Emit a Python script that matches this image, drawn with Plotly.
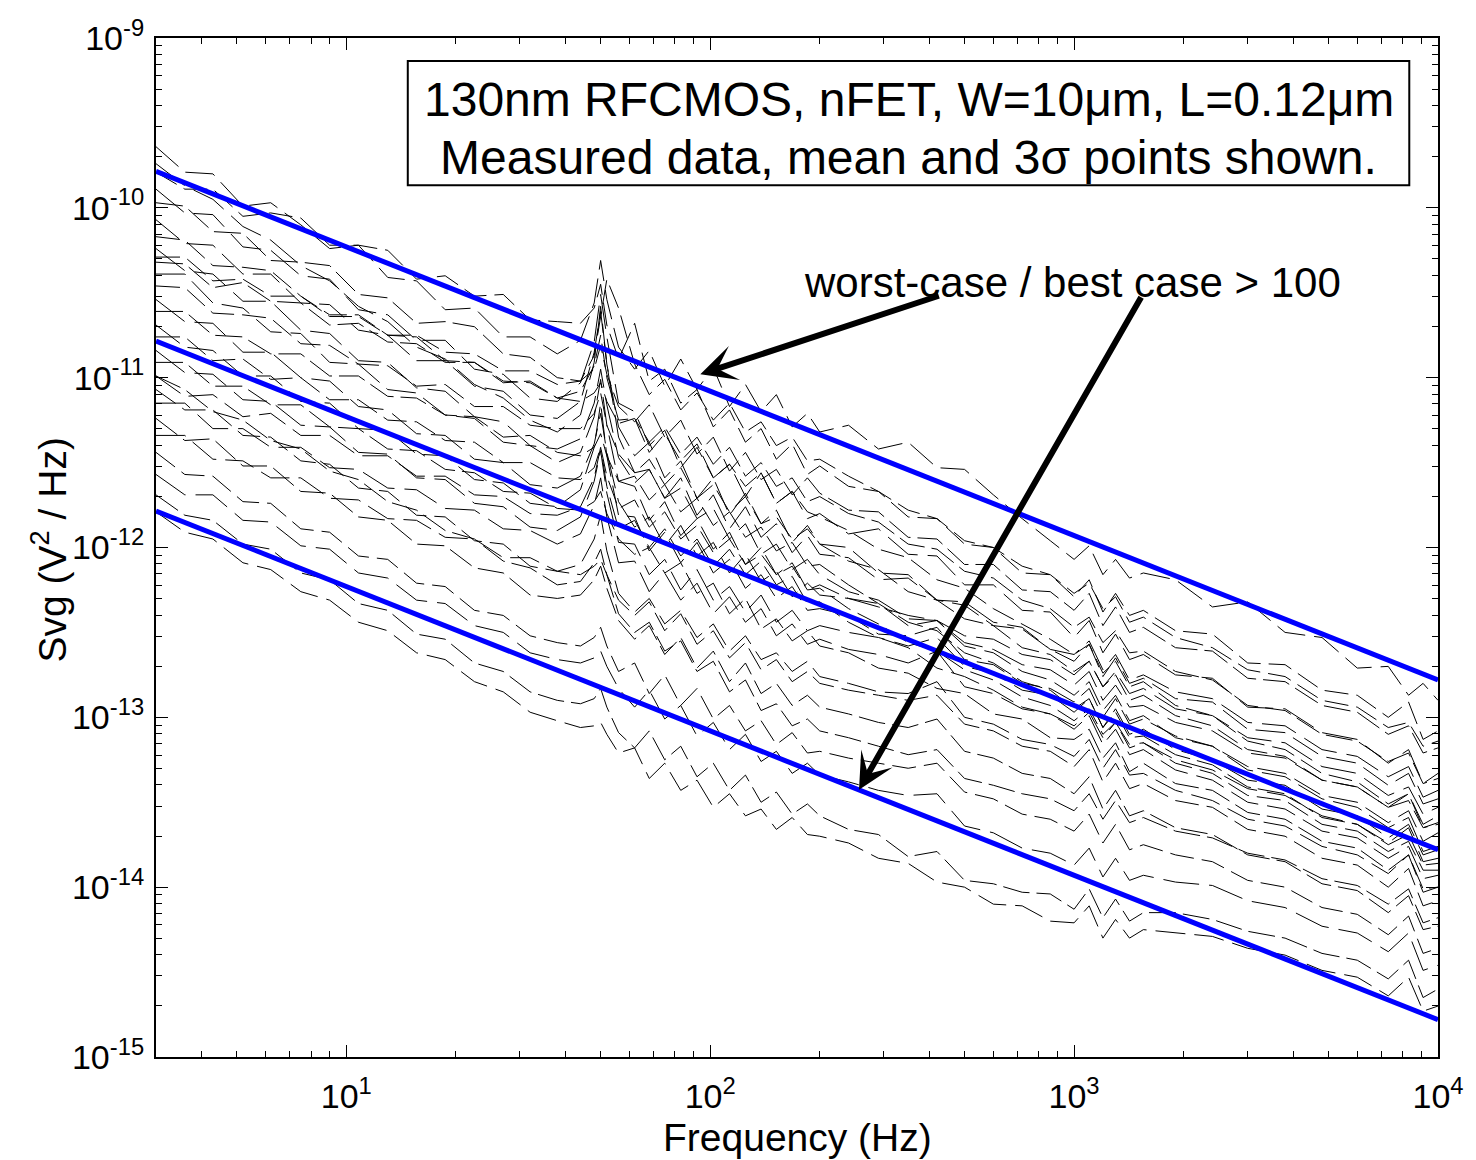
import plotly.graph_objects as go

FREQ_HZ = [3, 3.6, 4.3, 5.2, 6.2, 7.5, 9, 10.8, 13, 15.6, 18.7, 22.5, 27, 32, 38, 44, 48, 50, 52, 56,
           62, 68, 75, 83, 92, 102, 113, 125, 138, 152, 168, 185, 200, 240, 290, 350, 420, 500, 600, 720,
           860, 1000, 1100, 1200, 1300, 1420, 1550, 1900, 2400, 3000, 3800, 4800, 6000, 7300, 8300, 9100, 10000]

# measured Svg curves, log10(V^2/Hz), one list per device
LOG_SVG_01 = [-9.64, -9.79, -9.80, -9.99, -9.97, -10.10, -10.24, -10.22, -10.41, -10.43, -10.60, -10.59, -10.76, -10.76, -10.86, -10.78, -10.56, -10.31, -10.54, -10.82,
              -10.95, -10.84, -11.05, -10.89, -11.07, -10.94, -11.17, -11.04, -11.20, -11.10, -11.29, -11.21, -11.32, -11.28, -11.42, -11.38, -11.53, -11.54, -11.69, -11.83,
              -11.96, -12.07, -11.99, -12.16, -12.07, -12.18, -12.15, -12.19, -12.35, -12.32, -12.50, -12.53, -12.71, -12.70, -12.87, -12.80, -12.90]
LOG_SVG_02 = [-9.79, -9.89, -9.89, -10.05, -10.03, -10.06, -10.22, -10.22, -10.25, -10.42, -10.40, -10.52, -10.51, -10.66, -10.67, -10.68, -10.59, -10.45, -10.69, -10.89,
              -10.68, -11.02, -10.95, -11.15, -11.07, -11.29, -11.19, -11.38, -11.30, -11.48, -11.39, -11.57, -11.52, -11.64, -11.67, -11.82, -11.83, -11.98, -12.00, -12.15,
              -12.16, -12.29, -12.19, -12.38, -12.27, -12.40, -12.37, -12.49, -12.51, -12.68, -12.69, -12.84, -12.87, -13.00, -12.91, -13.13, -13.08]
LOG_SVG_03 = [-9.89, -10.03, -10.04, -10.23, -10.25, -10.40, -10.42, -10.60, -10.63, -10.78, -10.78, -10.95, -10.98, -11.12, -11.14, -11.03, -10.79, -10.51, -10.76, -11.15,
              -11.20, -11.40, -11.31, -11.53, -11.41, -11.59, -11.51, -11.70, -11.56, -11.74, -11.67, -11.83, -11.80, -11.92, -11.89, -12.04, -12.05, -12.22, -12.22, -12.37,
              -12.38, -12.53, -12.43, -12.62, -12.51, -12.66, -12.63, -12.75, -12.77, -12.94, -12.95, -13.09, -13.13, -13.27, -13.19, -13.39, -13.33]
LOG_SVG_04 = [-9.97, -9.99, -10.14, -10.15, -10.31, -10.32, -10.34, -10.51, -10.53, -10.68, -10.67, -10.70, -10.86, -10.88, -11.00, -11.02, -10.95, -10.81, -10.98, -11.17,
              -11.26, -11.16, -11.35, -11.25, -11.45, -11.35, -11.55, -11.44, -11.60, -11.54, -11.69, -11.59, -11.68, -11.78, -11.79, -11.94, -11.95, -12.10, -12.10, -12.25,
              -12.26, -12.37, -12.27, -12.46, -12.35, -12.50, -12.47, -12.59, -12.61, -12.77, -12.79, -12.93, -12.97, -13.10, -13.05, -13.21, -13.18]
LOG_SVG_05 = [-10.07, -10.21, -10.22, -10.39, -10.39, -10.56, -10.57, -10.72, -10.75, -10.90, -10.90, -11.05, -11.08, -11.22, -11.24, -11.14, -10.85, -10.61, -10.92, -11.29,
              -11.46, -11.38, -11.59, -11.49, -11.71, -11.59, -11.81, -11.68, -11.86, -11.78, -11.97, -11.87, -11.98, -12.00, -12.15, -12.16, -12.31, -12.34, -12.46, -12.48,
              -12.60, -12.67, -12.57, -12.76, -12.65, -12.80, -12.77, -12.89, -12.91, -13.07, -13.09, -13.23, -13.27, -13.40, -13.33, -13.51, -13.48]
LOG_SVG_06 = [-10.17, -10.19, -10.34, -10.35, -10.37, -10.52, -10.63, -10.63, -10.75, -10.76, -10.90, -10.91, -11.02, -11.03, -11.12, -11.08, -10.93, -10.75, -11.00, -11.25,
              -11.24, -11.44, -11.33, -11.49, -11.39, -11.59, -11.51, -11.64, -11.56, -11.74, -11.67, -11.79, -11.82, -11.90, -12.01, -12.06, -12.19, -12.24, -12.36, -12.45,
              -12.54, -12.63, -12.57, -12.74, -12.67, -12.82, -12.79, -12.93, -12.99, -13.14, -13.19, -13.33, -13.38, -13.51, -13.45, -13.65, -13.62]
LOG_SVG_07 = [-10.24, -10.37, -10.39, -10.55, -10.55, -10.72, -10.74, -10.90, -10.91, -11.06, -11.08, -11.23, -11.26, -11.40, -11.42, -11.36, -11.15, -10.95, -11.16, -11.47,
              -11.62, -11.54, -11.71, -11.59, -11.81, -11.69, -11.89, -11.76, -11.94, -11.86, -12.03, -11.93, -12.04, -12.06, -12.19, -12.18, -12.31, -12.32, -12.44, -12.47,
              -12.60, -12.63, -12.55, -12.72, -12.63, -12.78, -12.75, -12.85, -12.89, -13.03, -13.05, -13.19, -13.23, -13.35, -13.29, -13.47, -13.43]
LOG_SVG_08 = [-10.32, -10.33, -10.47, -10.44, -10.55, -10.56, -10.69, -10.68, -10.79, -10.80, -10.91, -10.91, -11.03, -11.02, -11.12, -11.14, -11.09, -11.03, -11.14, -11.27,
              -11.24, -11.38, -11.29, -11.45, -11.35, -11.51, -11.41, -11.58, -11.50, -11.64, -11.59, -11.73, -11.70, -11.80, -11.85, -11.98, -12.01, -12.14, -12.18, -12.31,
              -12.36, -12.47, -12.41, -12.56, -12.49, -12.62, -12.61, -12.73, -12.78, -12.93, -12.96, -13.10, -13.14, -13.26, -13.21, -13.39, -13.36]
LOG_SVG_09 = [-10.39, -10.39, -10.56, -10.59, -10.73, -10.74, -10.91, -10.92, -11.07, -11.09, -11.22, -11.24, -11.38, -11.40, -11.50, -11.44, -11.23, -11.01, -11.28, -11.61,
              -11.64, -11.84, -11.73, -11.93, -11.83, -12.01, -11.91, -12.10, -12.00, -12.16, -12.09, -12.25, -12.22, -12.30, -12.33, -12.46, -12.43, -12.58, -12.62, -12.73,
              -12.78, -12.87, -12.79, -12.96, -12.87, -13.02, -12.99, -13.12, -13.17, -13.31, -13.35, -13.48, -13.53, -13.65, -13.59, -13.79, -13.76]
LOG_SVG_10 = [-10.46, -10.47, -10.62, -10.63, -10.65, -10.80, -10.81, -10.92, -10.93, -11.05, -11.04, -11.17, -11.17, -11.28, -11.30, -11.30, -11.21, -11.09, -11.28, -11.45,
              -11.56, -11.48, -11.63, -11.53, -11.71, -11.63, -11.79, -11.70, -11.86, -11.82, -11.95, -11.89, -11.98, -12.08, -12.13, -12.26, -12.31, -12.42, -12.46, -12.59,
              -12.63, -12.73, -12.67, -12.82, -12.75, -12.90, -12.87, -12.99, -13.05, -13.19, -13.23, -13.37, -13.41, -13.53, -13.49, -13.65, -13.63]
LOG_SVG_11 = [-10.54, -10.67, -10.68, -10.85, -10.85, -11.00, -11.02, -11.17, -11.19, -11.33, -11.34, -11.48, -11.50, -11.63, -11.65, -11.58, -11.39, -11.21, -11.44, -11.73,
              -11.88, -11.82, -11.99, -11.87, -12.05, -11.97, -12.15, -12.04, -12.20, -12.14, -12.29, -12.21, -12.28, -12.30, -12.35, -12.40, -12.43, -12.52, -12.54, -12.63,
              -12.66, -12.75, -12.67, -12.82, -12.73, -12.86, -12.83, -12.95, -12.99, -13.12, -13.15, -13.29, -13.33, -13.46, -13.41, -13.57, -13.53]
LOG_SVG_12 = [-10.61, -10.61, -10.75, -10.76, -10.86, -10.86, -10.99, -10.99, -11.11, -11.12, -11.22, -11.23, -11.35, -11.34, -11.44, -11.46, -11.41, -11.33, -11.46, -11.61,
              -11.58, -11.72, -11.63, -11.79, -11.71, -11.87, -11.79, -11.94, -11.88, -12.02, -11.97, -12.11, -12.10, -12.22, -12.33, -12.44, -12.49, -12.62, -12.68, -12.79,
              -12.84, -12.95, -12.89, -13.06, -12.97, -13.12, -13.11, -13.22, -13.28, -13.41, -13.45, -13.59, -13.63, -13.75, -13.69, -13.87, -13.86]
LOG_SVG_13 = [-10.69, -10.82, -10.84, -10.99, -10.99, -11.14, -11.15, -11.30, -11.31, -11.45, -11.46, -11.60, -11.62, -11.74, -11.76, -11.66, -11.41, -11.15, -11.46, -11.81,
              -11.82, -12.02, -11.91, -12.09, -11.97, -12.15, -12.07, -12.24, -12.16, -12.30, -12.23, -12.37, -12.36, -12.40, -12.51, -12.52, -12.47, -12.66, -12.69, -12.80,
              -12.83, -12.91, -12.83, -13.00, -12.89, -13.04, -13.01, -13.11, -13.17, -13.29, -13.33, -13.46, -13.50, -13.62, -13.55, -13.73, -13.68]
LOG_SVG_14 = [-10.76, -10.76, -10.90, -10.89, -11.01, -11.00, -11.13, -11.13, -11.25, -11.26, -11.37, -11.38, -11.50, -11.50, -11.59, -11.60, -11.53, -11.41, -11.58, -11.77,
              -11.72, -11.88, -11.79, -11.95, -11.87, -12.03, -11.95, -12.10, -12.04, -12.16, -12.11, -12.25, -12.24, -12.36, -12.45, -12.56, -12.61, -12.72, -12.78, -12.88,
              -12.93, -13.02, -12.95, -13.10, -13.03, -13.18, -13.15, -13.27, -13.33, -13.46, -13.49, -13.63, -13.67, -13.79, -13.73, -13.90, -13.90]
LOG_SVG_15 = [-10.84, -10.97, -10.98, -11.13, -11.14, -11.28, -11.29, -11.44, -11.45, -11.59, -11.60, -11.74, -11.76, -11.88, -11.90, -11.82, -11.61, -11.43, -11.68, -11.97,
              -11.98, -12.16, -12.07, -12.25, -12.13, -12.31, -12.23, -12.38, -12.28, -12.44, -12.37, -12.49, -12.46, -12.50, -12.53, -12.58, -12.53, -12.70, -12.74, -12.84,
              -12.87, -12.97, -12.89, -13.06, -12.95, -13.10, -13.07, -13.19, -13.25, -13.37, -13.40, -13.54, -13.58, -13.71, -13.63, -13.81, -13.78]
LOG_SVG_16 = [-10.91, -10.91, -11.05, -11.05, -11.16, -11.16, -11.29, -11.30, -11.42, -11.43, -11.54, -11.56, -11.67, -11.68, -11.77, -11.78, -11.73, -11.67, -11.80, -11.95,
              -12.04, -12.00, -12.15, -12.09, -12.27, -12.21, -12.39, -12.30, -12.48, -12.42, -12.55, -12.49, -12.58, -12.62, -12.71, -12.74, -12.83, -12.86, -12.98, -13.01,
              -13.12, -13.13, -13.07, -13.24, -13.15, -13.32, -13.27, -13.39, -13.43, -13.56, -13.60, -13.73, -13.77, -13.90, -13.81, -14.01, -14.00]
LOG_SVG_17 = [-10.99, -11.11, -11.10, -11.23, -11.21, -11.34, -11.34, -11.46, -11.46, -11.58, -11.58, -11.69, -11.70, -11.80, -11.81, -11.76, -11.59, -11.41, -11.64, -11.89,
              -11.84, -12.00, -11.89, -12.05, -11.95, -12.11, -12.01, -12.16, -12.08, -12.22, -12.17, -12.33, -12.32, -12.44, -12.53, -12.59, -12.71, -12.76, -12.84, -12.94,
              -12.98, -13.07, -12.99, -13.16, -13.07, -13.22, -13.19, -13.31, -13.37, -13.50, -13.54, -13.67, -13.71, -13.83, -13.76, -13.95, -13.93]
LOG_SVG_18 = [-11.07, -11.19, -11.19, -11.34, -11.35, -11.49, -11.51, -11.65, -11.67, -11.81, -11.82, -11.96, -11.98, -12.11, -12.14, -12.16, -12.11, -12.07, -12.16, -12.31,
              -12.40, -12.32, -12.49, -12.39, -12.57, -12.49, -12.65, -12.56, -12.72, -12.66, -12.79, -12.73, -12.80, -12.84, -12.87, -12.90, -12.87, -13.04, -13.08, -13.17,
              -13.20, -13.29, -13.19, -13.38, -13.27, -13.42, -13.39, -13.49, -13.53, -13.66, -13.70, -13.83, -13.87, -14.00, -13.89, -14.11, -14.08]
LOG_SVG_19 = [-11.15, -11.15, -11.30, -11.30, -11.41, -11.41, -11.53, -11.54, -11.65, -11.66, -11.77, -11.78, -11.89, -11.90, -11.98, -11.92, -11.75, -11.59, -11.82, -12.09,
              -12.08, -12.26, -12.15, -12.31, -12.21, -12.39, -12.29, -12.44, -12.36, -12.52, -12.45, -12.57, -12.54, -12.60, -12.63, -12.68, -12.61, -12.82, -12.86, -12.95,
              -12.98, -13.05, -12.97, -13.12, -13.03, -13.16, -13.15, -13.25, -13.31, -13.42, -13.46, -13.58, -13.63, -13.74, -13.65, -13.85, -13.83]
LOG_SVG_20 = [-11.24, -11.37, -11.36, -11.52, -11.52, -11.67, -11.68, -11.82, -11.84, -11.98, -11.99, -12.12, -12.15, -12.28, -12.30, -12.28, -12.19, -12.11, -12.24, -12.43,
              -12.54, -12.46, -12.63, -12.53, -12.71, -12.61, -12.79, -12.68, -12.86, -12.80, -12.93, -12.87, -12.94, -12.98, -13.03, -13.06, -13.01, -13.20, -13.24, -13.33,
              -13.36, -13.45, -13.35, -13.54, -13.43, -13.58, -13.55, -13.65, -13.69, -13.81, -13.85, -13.98, -14.02, -14.15, -14.05, -14.25, -14.23]
LOG_SVG_21 = [-11.34, -11.34, -11.48, -11.49, -11.59, -11.59, -11.71, -11.72, -11.83, -11.84, -11.94, -11.95, -12.06, -12.06, -12.14, -12.10, -11.95, -11.81, -12.02, -12.27,
              -12.38, -12.30, -12.45, -12.37, -12.53, -12.45, -12.61, -12.52, -12.66, -12.62, -12.73, -12.67, -12.76, -12.80, -12.85, -12.86, -12.79, -13.00, -13.04, -13.13,
              -13.16, -13.23, -13.13, -13.30, -13.19, -13.34, -13.33, -13.43, -13.49, -13.60, -13.64, -13.76, -13.81, -13.92, -13.81, -14.03, -14.00]
LOG_SVG_22 = [-11.44, -11.57, -11.58, -11.73, -11.74, -11.89, -11.91, -12.05, -12.07, -12.21, -12.23, -12.37, -12.40, -12.52, -12.56, -12.58, -12.53, -12.47, -12.58, -12.73,
              -12.68, -12.86, -12.75, -12.93, -12.83, -13.01, -12.93, -13.08, -13.02, -13.16, -13.09, -13.21, -13.20, -13.24, -13.27, -13.30, -13.27, -13.44, -13.48, -13.57,
              -13.60, -13.67, -13.57, -13.74, -13.63, -13.78, -13.75, -13.81, -13.85, -13.96, -14.00, -14.12, -14.16, -14.28, -14.17, -14.39, -14.36]
LOG_SVG_23 = [-11.57, -11.69, -11.69, -11.84, -11.85, -11.99, -12.01, -12.15, -12.18, -12.31, -12.33, -12.46, -12.50, -12.62, -12.66, -12.68, -12.65, -12.61, -12.70, -12.83,
              -12.94, -12.84, -13.01, -12.93, -13.11, -13.03, -13.19, -13.10, -13.26, -13.20, -13.33, -13.27, -13.34, -13.38, -13.43, -13.46, -13.45, -13.64, -13.68, -13.77,
              -13.80, -13.87, -13.77, -13.94, -13.83, -13.96, -13.93, -13.97, -13.99, -14.08, -14.12, -14.23, -14.27, -14.38, -14.27, -14.49, -14.46]
LOG_SVG_24 = [-11.69, -11.81, -11.84, -11.98, -12.01, -12.15, -12.19, -12.33, -12.37, -12.51, -12.54, -12.68, -12.73, -12.85, -12.90, -12.92, -12.89, -12.83, -12.94, -13.09,
              -13.18, -13.08, -13.25, -13.17, -13.35, -13.27, -13.43, -13.34, -13.50, -13.44, -13.57, -13.51, -13.58, -13.66, -13.69, -13.82, -13.79, -13.96, -13.98, -14.03,
              -14.04, -14.13, -14.01, -14.18, -14.07, -14.20, -14.15, -14.15, -14.19, -14.26, -14.30, -14.39, -14.43, -14.54, -14.43, -14.65, -14.60]
LOG_SVG_25 = [-11.79, -11.91, -11.95, -12.09, -12.13, -12.26, -12.31, -12.44, -12.49, -12.62, -12.66, -12.79, -12.85, -12.97, -13.02, -13.06, -13.05, -13.03, -13.10, -13.21,
              -13.18, -13.36, -13.27, -13.43, -13.37, -13.53, -13.45, -13.58, -13.54, -13.66, -13.59, -13.69, -13.70, -13.74, -13.83, -13.86, -13.97, -14.00, -14.10, -14.11,
              -14.20, -14.21, -14.11, -14.30, -14.19, -14.30, -14.25, -14.27, -14.29, -14.36, -14.40, -14.49, -14.53, -14.64, -14.53, -14.73, -14.70]
LOG_SVG_26 = [-10.29, -10.29, -10.43, -10.42, -10.52, -10.52, -10.64, -10.64, -10.75, -10.75, -10.85, -10.86, -10.96, -10.96, -11.04, -11.02, -10.87, -10.65, -10.42, -10.59,
              -10.92, -11.10, -11.01, -11.19, -11.09, -11.25, -11.15, -11.32, -11.26, -11.40, -11.35, -11.49, -11.48, -11.58, -11.67, -11.78, -11.83, -11.96, -12.00, -12.11,
              -12.16, -12.27, -12.21, -12.36, -12.29, -12.44, -12.41, -12.53, -12.59, -12.72, -12.76, -12.90, -12.94, -13.06, -13.03, -13.17, -13.14]
LOG_SVG_27 = [-9.74, -9.87, -9.95, -10.11, -10.19, -10.34, -10.43, -10.58, -10.67, -10.82, -10.89, -11.04, -11.12, -11.25, -11.32, -11.22, -10.91, -10.58, -10.92, -11.35,
              -11.56, -11.54, -11.71, -11.65, -11.83, -11.77, -11.95, -11.86, -12.04, -11.98, -12.13, -12.07, -12.16, -12.26, -12.31, -12.42, -12.43, -12.56, -12.60, -12.69,
              -12.72, -12.81, -12.73, -12.90, -12.81, -12.94, -12.93, -13.03, -13.08, -13.21, -13.24, -13.37, -13.41, -13.53, -13.45, -13.63, -13.58]
LOG_SVG_28 = [-10.99, -11.07, -11.20, -11.25, -11.37, -11.42, -11.55, -11.60, -11.73, -11.78, -11.90, -11.95, -12.08, -12.12, -12.22, -12.20, -12.09, -12.01, -12.16, -12.39,
              -12.50, -12.44, -12.61, -12.55, -12.73, -12.67, -12.85, -12.78, -12.96, -12.92, -13.05, -13.01, -13.08, -13.12, -13.17, -13.22, -13.19, -13.36, -13.40, -13.45,
              -13.48, -13.55, -13.45, -13.60, -13.49, -13.62, -13.59, -13.67, -13.71, -13.80, -13.84, -13.95, -13.99, -14.10, -14.01, -14.21, -14.18]

MEASURED = [LOG_SVG_01, LOG_SVG_02, LOG_SVG_03, LOG_SVG_04, LOG_SVG_05, LOG_SVG_06, LOG_SVG_07,
            LOG_SVG_08, LOG_SVG_09, LOG_SVG_10, LOG_SVG_11, LOG_SVG_12, LOG_SVG_13, LOG_SVG_14,
            LOG_SVG_15, LOG_SVG_16, LOG_SVG_17, LOG_SVG_18, LOG_SVG_19, LOG_SVG_20, LOG_SVG_21,
            LOG_SVG_22, LOG_SVG_23, LOG_SVG_24, LOG_SVG_25, LOG_SVG_26, LOG_SVG_27, LOG_SVG_28]

# mean and 3-sigma lines
FIT_FREQ = [3, 10, 100, 1000, 10000]
MEAN_SVG = [1.64e-11, 5.9e-12, 8.3e-13, 1.17e-13, 1.66e-14]
WORST_SVG = [1.64e-10, 5.9e-11, 8.3e-12, 1.17e-12, 1.66e-13]
BEST_SVG = [1.64e-12, 5.9e-13, 8.3e-14, 1.17e-14, 1.66e-15]

Y_TICKS = [1e-15, 1e-14, 1e-13, 1e-12, 1e-11, 1e-10, 1e-9]
Y_TICKTEXT = ["10<sup>-15</sup>", "10<sup>-14</sup>", "10<sup>-13</sup>", "10<sup>-12</sup>",
              "10<sup>-11</sup>", "10<sup>-10</sup>", "10<sup>-9</sup>"]
X_TICKS = [10, 100, 1000, 10000]
X_TICKTEXT = ["10<sup>1</sup>", "10<sup>2</sup>", "10<sup>3</sup>", "10<sup>4</sup>"]
X_MINOR = [m * d for d in [1, 10, 100, 1000] for m in range(2, 10) if m * d >= 3]
Y_MINOR = [m * 10.0 ** e for e in range(-15, -9) for m in range(2, 10)]

DASHES = ["30px,9px", "24px,8px", "36px,10px", "27px,7px"]
FONT = "Liberation Sans, Arial, sans-serif"

fig = go.Figure()
for i, curve in enumerate(MEASURED):
    fig.add_trace(go.Scatter(
        x=FREQ_HZ, y=[10 ** v for v in curve], mode="lines",
        line=dict(color="black", width=1, dash=DASHES[i % len(DASHES)]),
        showlegend=False, hoverinfo="skip"))

for series in [WORST_SVG, MEAN_SVG, BEST_SVG]:
    fig.add_trace(go.Scatter(
        x=FIT_FREQ, y=series, mode="lines",
        line=dict(color="#0000ff", width=5),
        showlegend=False, hoverinfo="skip"))

axis_common = dict(
    showgrid=False, zeroline=False, showline=True, linecolor="black", linewidth=2,
    mirror="ticks", ticks="inside", ticklen=12, tickwidth=1, tickcolor="black",
    tickfont=dict(family=FONT, size=34, color="black"),
)

fig.update_xaxes(type="log", range=[0.47712, 4.0], tickmode="array",
                 tickvals=X_TICKS, ticktext=X_TICKTEXT, ticklabelstandoff=8,
                 minor=dict(tickmode="array", tickvals=X_MINOR, ticks="inside",
                            ticklen=6, tickcolor="black", tickwidth=1, showgrid=False),
                 **axis_common)
fig.update_yaxes(type="log", range=[-15, -9], tickmode="array",
                 tickvals=Y_TICKS, ticktext=Y_TICKTEXT, ticklabelstandoff=3,
                 minor=dict(tickmode="array", tickvals=Y_MINOR, ticks="inside",
                            ticklen=6, tickcolor="black", tickwidth=1, showgrid=False),
                 **axis_common)

annotations = [
    dict(text="Frequency (Hz)", xref="paper", yref="paper", x=0.5, y=-0.079,
         xanchor="center", yanchor="middle", showarrow=False,
         font=dict(family=FONT, size=39, color="black")),
    dict(text="Svg (V<sup>2</sup> / Hz)", xref="paper", yref="paper", x=-0.0835, y=0.498,
         xanchor="center", yanchor="middle", showarrow=False, textangle=-90,
         font=dict(family=FONT, size=39, color="black")),
    dict(text="130nm RFCMOS, nFET, W=10\u03bcm, L=0.12\u03bcm", xref="paper", yref="paper",
         x=0.587, y=0.9401, xanchor="center", yanchor="middle", showarrow=False,
         font=dict(family=FONT, size=48, color="black")),
    dict(text="Measured data, mean and 3\u03c3 points shown.", xref="paper", yref="paper",
         x=0.587, y=0.8831, xanchor="center", yanchor="middle", showarrow=False,
         font=dict(family=FONT, size=48, color="black")),
    dict(text="worst-case / best case > 100", xref="paper", yref="paper",
         x=0.7146, y=0.7603, xanchor="center", yanchor="middle", showarrow=False,
         font=dict(family=FONT, size=42, color="black")),
    dict(text="", x=1.9729, y=-10.980, xref="x", yref="y", ax=240, ay=-79,
         showarrow=True, arrowhead=3, arrowsize=1.0, arrowwidth=6, arrowcolor="black",
         standoff=0, startstandoff=0),
    dict(text="", x=2.4089, y=-13.426, xref="x", yref="y", ax=283, ay=-494,
         showarrow=True, arrowhead=3, arrowsize=1.0, arrowwidth=6, arrowcolor="black",
         standoff=0, startstandoff=0),
]

fig.update_layout(
    width=1476, height=1160,
    margin=dict(l=156, r=27, t=38, b=103),
    paper_bgcolor="white", plot_bgcolor="white",
    showlegend=False,
    annotations=annotations,
    shapes=[dict(type="rect", xref="paper", yref="paper", x0=0.1964, x1=0.9776,
                 y0=0.8556, y1=0.9774, line=dict(color="black", width=2),
                 fillcolor="white", layer="above")],
)

fig.write_html("out.html")
